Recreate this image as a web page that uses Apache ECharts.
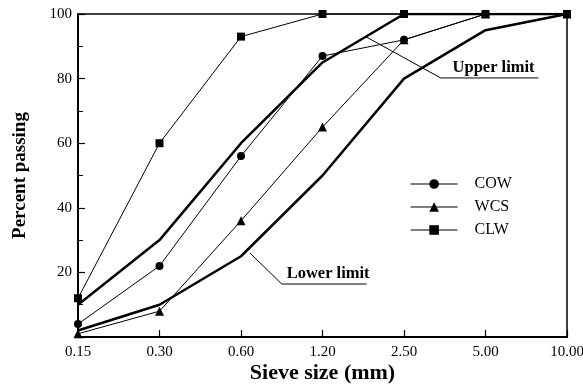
<!DOCTYPE html>
<html>
<head>
<meta charset="utf-8">
<script src="https://cdn.jsdelivr.net/npm/echarts@6/dist/echarts.min.js"></script>
<style>
  html, body { margin: 0; padding: 0; background: #fff; }
  #chart { width: 583px; height: 385px; }
</style>
</head>
<body>
<div id="chart"></div>
<script>
// sieve sizes (mm), evenly spaced on the x axis
var sieveSizes = ['0.15', '0.30', '0.60', '1.20', '2.50', '5.00', '10.00']
var yTicks = [20, 40, 60, 80, 100]

// percent passing per sieve
var upperLimit = [10, 30, 60, 85, 100, 100, 100]
var lowerLimit = [2, 10, 25, 50, 80, 95, 100]
var cow = [4, 22, 56, 87, 92, 100, 100]
var wcs = [1, 8, 36, 65, 92, 100, 100]
var clw = [12, 60, 93, 100, 100, 100, 100]

// annotation leaders in data units [sieve index, percent]
var upperLeader = [[3.53, 93], [4.45, 80.2], [5.65, 80.2]]
var lowerLeader = [[2.11, 26], [2.5, 16.4], [3.54, 16.4]]

var serif = '"Liberation Serif", "DejaVu Serif", serif'

function pairs (arr) {
  return arr.map(function (v, i) { return [i, v] })
}

var chart = echarts.init(document.getElementById('chart'))

function thin (name, data, symbol, size) {
  return {
    name: name,
    type: 'line',
    data: pairs(data),
    symbol: symbol,
    symbolSize: size,
    showSymbol: true,
    lineStyle: { color: '#000', width: 1 },
    itemStyle: { color: '#000' },
    z: 3
  }
}

function thick (name, data) {
  return {
    name: name,
    type: 'line',
    data: pairs(data),
    symbol: 'none',
    lineStyle: { color: '#000', width: 2.5 },
    z: 2
  }
}

function leader (data) {
  return {
    type: 'line',
    data: data,
    symbol: 'none',
    silent: true,
    lineStyle: { color: '#000', width: 1 },
    z: 1
  }
}

chart.setOption({
  animation: false,
  backgroundColor: '#fff',
  grid: {
    left: 78, right: 16, top: 14, bottom: 48,
    outerBoundsMode: 'none',
    containLabel: false,
    show: true, borderColor: '#000', borderWidth: 1.5
  },
  legend: {
    data: ['COW', 'WCS', 'CLW'],
    orient: 'vertical',
    left: 405,
    top: 171,
    itemWidth: 47,
    itemHeight: 12,
    itemGap: 7,
    lineStyle: { width: 1.2 },
    textStyle: { color: '#000', fontFamily: serif, fontSize: 16, lineHeight: 16, padding: [0, 0, 0, 12] }
  },
  xAxis: {
    type: 'value',
    min: 0,
    max: 6,
    interval: 1,
    name: 'Sieve size (mm)',
    nameLocation: 'middle',
    nameGap: 25,
    nameMoveOverlap: false,
    nameTextStyle: { color: '#000', fontFamily: serif, fontWeight: 'bold', fontSize: 22 },
    axisLine: { lineStyle: { color: '#000', width: 2 } },
    axisTick: { inside: true, length: 7, lineStyle: { color: '#000', width: 1.2 } },
    splitLine: { show: false },
    axisLabel: {
      color: '#000', fontFamily: serif, fontSize: 15, margin: 8,
      formatter: function (v) { return sieveSizes[v] }
    }
  },
  yAxis: {
    type: 'value',
    min: 0,
    max: 100,
    interval: 20,
    name: 'Percent passing',
    nameLocation: 'middle',
    nameGap: 48,
    nameTextStyle: { color: '#000', fontFamily: serif, fontWeight: 'bold', fontSize: 19 },
    axisLine: { show: true, lineStyle: { color: '#000', width: 2 } },
    axisTick: { show: true, inside: true, length: 7, lineStyle: { color: '#000', width: 1.2 } },
    minorTick: { show: true, splitNumber: 2, length: 5, lineStyle: { color: '#000', width: 1 } },
    splitLine: { show: false },
    axisLabel: {
      color: '#000', fontFamily: serif, fontSize: 15, margin: 6,
      formatter: function (v) { return yTicks.indexOf(v) >= 0 ? String(v) : '' }
    }
  },
  series: [
    thick('Upper limit', upperLimit),
    thick('Lower limit', lowerLimit),
    thin('COW', cow, 'circle', 8),
    thin('WCS', wcs, 'triangle', 9),
    thin('CLW', clw, 'rect', 8),
    leader(upperLeader),
    leader(lowerLeader)
  ]
})

// annotation texts placed above the leader ends
function labelAt (text, leaderPts) {
  var a = chart.convertToPixel('grid', leaderPts[1])
  var b = chart.convertToPixel('grid', leaderPts[2])
  return {
    type: 'text',
    x: (a[0] + b[0]) / 2 + 4,
    y: a[1] - 2,
    style: {
      text: text,
      fill: '#000',
      font: 'bold 16.5px ' + serif,
      textAlign: 'center',
      textVerticalAlign: 'bottom'
    },
    z: 10
  }
}

chart.setOption({
  graphic: [labelAt('Upper limit', upperLeader), labelAt('Lower limit', lowerLeader)]
})
</script>
</body>
</html>
